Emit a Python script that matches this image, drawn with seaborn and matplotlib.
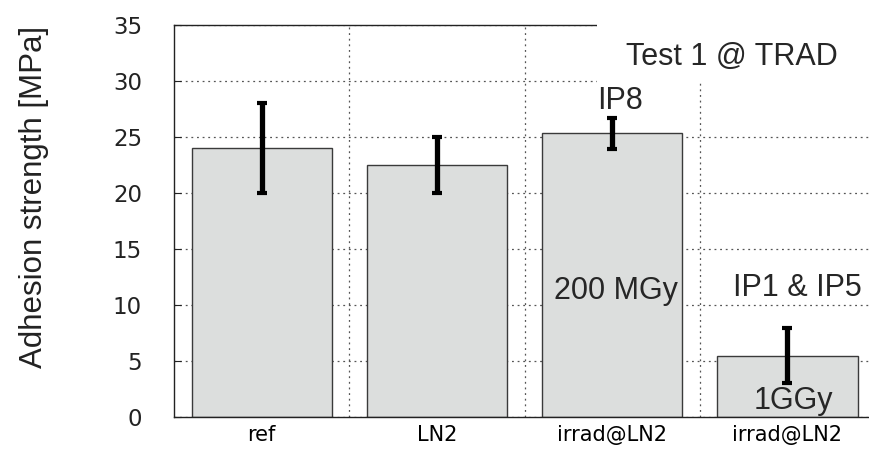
import matplotlib
matplotlib.use('Agg')
import matplotlib.pyplot as plt
import seaborn as sns
import pandas as pd
from matplotlib.patches import Rectangle

# ---- data ----
groups = ['ref', 'LN2', 'irrad@LN2 (200 MGy)', 'irrad@LN2 (1 GGy)']
tick_labels = ['ref', 'LN2', 'irrad@LN2', 'irrad@LN2']
strength = [24.0, 22.5, 25.3, 5.45]
err_low = [20.0, 20.0, 23.9, 3.05]
err_high = [28.0, 25.0, 26.7, 7.9]
y_ticks = [0, 5, 10, 15, 20, 25, 30, 35]

sns.set_style('white')
plt.rcParams['font.family'] = ['Liberation Sans', 'DejaVu Sans']

fig = plt.figure(figsize=(8.69, 4.5), dpi=100)
ax = fig.add_axes([0.2002, 0.0733, 0.8068, 0.8722])

df = pd.DataFrame({'group': groups, 'strength': strength})
sns.barplot(data=df, x='group', y='strength', order=groups, color='#dcdedd',
            saturation=1, edgecolor='#3a3a3a', linewidth=1.0, width=0.8,
            errorbar=None, ax=ax, zorder=2)

xpos = list(range(len(groups)))
lower = [s - l for s, l in zip(strength, err_low)]
upper = [h - s for s, h in zip(strength, err_high)]
ax.errorbar(xpos, strength, yerr=[lower, upper], fmt='none', ecolor='black',
            elinewidth=3.8, capsize=3.6, capthick=3, zorder=4)

ax.set_xlim(-0.5, 3.5)
ax.set_ylim(0, 35)
ax.set_yticks(y_ticks)
ax.set_yticklabels([str(v) for v in y_ticks])
ax.set_xticks(xpos)
ax.set_xticklabels(tick_labels)
ax.set_xticks([0.5, 1.5, 2.5], minor=True)
ax.set_xlabel('')
ax.set_ylabel('')

ax.grid(False)
grid_kw = dict(linestyle=(0, (1.5, 3)), color='#555555', linewidth=0.9)
ax.yaxis.grid(True, which='major', **grid_kw)
ax.xaxis.grid(True, which='minor', **grid_kw)
ax.xaxis.grid(False, which='major')
ax.set_axisbelow(True)

ax.tick_params(axis='y', direction='in', length=5, width=0.8, pad=23,
               labelsize=16.5, colors='#222222', left=True)
ax.tick_params(axis='x', which='both', length=0, pad=5.5, labelsize=15,
               labelcolor='black')
for lbl in ax.get_yticklabels() + ax.get_xticklabels():
    lbl.set_fontfamily('DejaVu Sans')

for side in ['left', 'bottom', 'top']:
    ax.spines[side].set_visible(True)
    ax.spines[side].set_color('#222222')
    ax.spines[side].set_linewidth(1.0)
ax.spines['right'].set_visible(False)

# white background box behind title annotation
ax.add_patch(Rectangle((1.915, 29.78), 2.0, 10, transform=ax.transData,
                       facecolor='white', edgecolor='none', clip_on=False,
                       zorder=5))

txt_kw = dict(fontsize=22, color='#262626', ha='center', va='baseline',
              zorder=6, clip_on=False)
ax.text(2.685, 31.39, 'Test 1 @ TRAD', **txt_kw)
ax.text(2.046, 27.47, 'IP8', **txt_kw)
ax.text(2.023, 10.5, '200 MGy', **txt_kw)
ax.text(3.058, 10.79, 'IP1 & IP5', **txt_kw)
ax.text(3.033, 0.69, '1GGy', **txt_kw)

fig.text(34 / 869, 1 - 196.5 / 450, 'Adhesion strength [MPa]', rotation=90,
         ha='center', va='center', fontsize=22.5, color='#222222')

fig.savefig('out.png', dpi=100)
